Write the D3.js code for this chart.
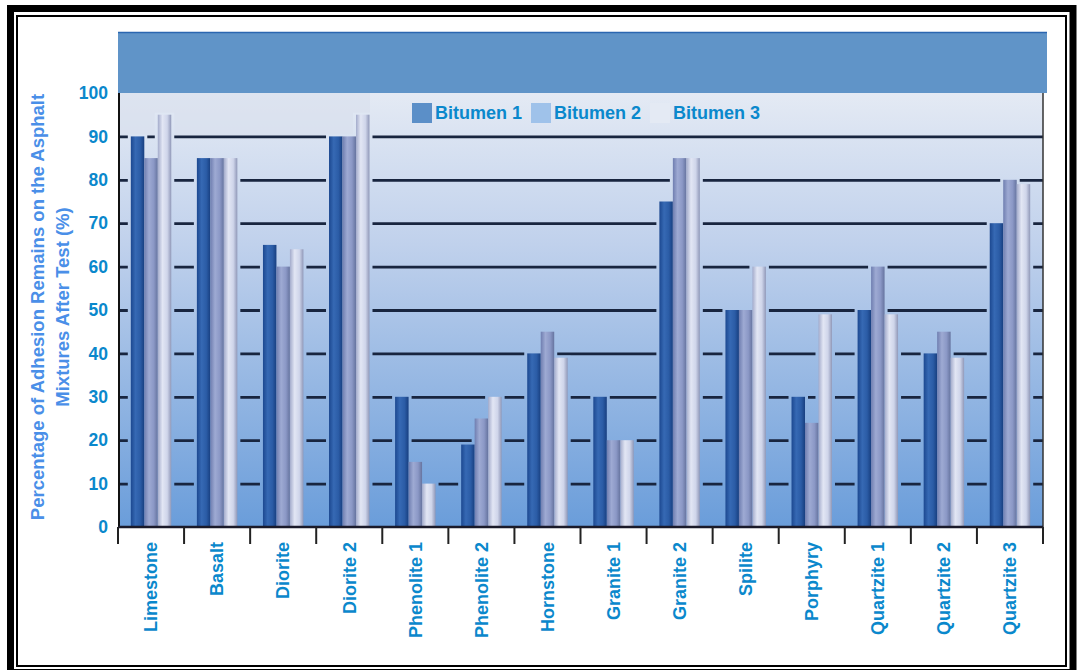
<!DOCTYPE html>
<html>
<head>
<meta charset="utf-8">
<script src="https://cdn.jsdelivr.net/npm/d3@7"></script>
<style>
  body { margin: 0; background: #fff; }
  svg { display: block; font-family: "Liberation Sans", Arial, sans-serif; }
</style>
</head>
<body>
<div class="chart"></div>
<script>
const categories = ['Limestone', 'Basalt', 'Diorite', 'Diorite 2', 'Phenolite 1', 'Phenolite 2', 'Hornstone',
  'Granite 1', 'Granite 2', 'Spilite', 'Porphyry', 'Quartzite 1', 'Quartzite 2', 'Quartzite 3'];
const seriesNames = ['Bitumen 1', 'Bitumen 2', 'Bitumen 3'];
const bitumen1 = [90, 85, 65, 90, 30, 19, 40, 30, 75, 50, 30, 50, 40, 70];
const bitumen2 = [85, 85, 60, 90, 15, 25, 45, 20, 85, 50, 24, 60, 45, 80];
const bitumen3 = [95, 85, 64, 95, 10, 30, 39, 20, 85, 60, 49, 49, 39, 79];
const yTicks = [0, 10, 20, 30, 40, 50, 60, 70, 80, 90, 100];
const yTitle = ['Percentage of Adhesion Remains on the Asphalt', 'Mixtures After Test (%)'];

const W = 1077, H = 670;
const margin = { top: 93, right: 34, bottom: 143, left: 118 };
const plotRight = W - margin.right, plotBottom = H - margin.bottom;

const svg = d3.select('.chart').append('svg').attr('width', W).attr('height', H);
const defs = svg.append('defs');

// background of the plot wall
const bg = defs.append('linearGradient').attr('id', 'bgGrad')
  .attr('gradientUnits', 'userSpaceOnUse')
  .attr('x1', 0).attr('y1', margin.top).attr('x2', 0).attr('y2', plotBottom);
bg.append('stop').attr('offset', '0%').attr('stop-color', '#e4eaf4');
bg.append('stop').attr('offset', '35%').attr('stop-color', '#c0d1ec');
bg.append('stop').attr('offset', '100%').attr('stop-color', '#6a9dda');

// cylinder-like shading for each series
const barStops = [
  ['#1c4890', '#3669b4', '#2b5ca6', '#183f80'],
  ['#6f7eb0', '#9eaad3', '#8b98c6', '#66749f'],
  ['#a3abcb', '#e2e6f4', '#cfd5ea', '#9098b8']
];
barStops.forEach((s, i) => {
  const g = defs.append('linearGradient').attr('id', 'bar' + i).attr('x1', 0).attr('x2', 1).attr('y1', 0).attr('y2', 0);
  [0, 35, 70, 100].forEach((o, j) => g.append('stop').attr('offset', o + '%').attr('stop-color', s[j]));
});

// double frame
svg.append('rect').attr('x', 10.5).attr('y', 8.5).attr('width', 1062.5).attr('height', 664)
  .attr('fill', 'none').attr('stroke', '#000').attr('stroke-width', 7);
svg.append('rect').attr('x', 17).attr('y', 16).attr('width', 1049).attr('height', 650)
  .attr('fill', 'none').attr('stroke', '#000').attr('stroke-width', 2);

const x0 = d3.scaleBand().domain(categories).range([margin.left, plotRight]);
const x1 = d3.scaleBand().domain(seriesNames).range([0, x0.bandwidth()]).paddingInner(0).paddingOuter(0.95);
const y = d3.scaleLinear().domain([0, 100]).range([plotBottom, margin.top]);

// header band
svg.append('rect').attr('x', margin.left).attr('y', 32).attr('width', 1047 - margin.left).attr('height', margin.top - 32)
  .attr('fill', '#6094c8');
svg.append('line').attr('x1', margin.left).attr('x2', 1047).attr('y1', 32.5).attr('y2', 32.5)
  .attr('stroke', '#2a66b0').attr('stroke-width', 1.5);

// plot wall
svg.append('rect').attr('x', margin.left).attr('y', margin.top)
  .attr('width', plotRight - margin.left).attr('height', plotBottom - margin.top).attr('fill', 'url(#bgGrad)');
svg.append('rect').attr('x', margin.left).attr('y', margin.top)
  .attr('width', 370 - margin.left).attr('height', 42).attr('fill', '#d8e0ec').attr('opacity', 0.6);

// grid lines
svg.append('g').attr('class', 'grid')
  .attr('transform', `translate(${margin.left},0)`)
  .call(d3.axisLeft(y).tickValues(yTicks.filter(v => v > 0 && v < 100)).tickSize(-(plotRight - margin.left)).tickFormat(''))
  .call(g => g.select('.domain').remove())
  .call(g => g.selectAll('line').attr('stroke', '#18253f').attr('stroke-width', 2.8));

const rows = categories.map((c, i) => ({ cat: c, vals: [bitumen1[i], bitumen2[i], bitumen3[i]] }));

const groups = svg.append('g').selectAll('g').data(rows).join('g')
  .attr('transform', d => `translate(${x0(d.cat)},0)`);

// depth of the bars hides the back-wall grid
groups.selectAll('rect.depth').data(d => d.vals.map((v, k) => ({ v, s: seriesNames[k], k })))
  .join('rect').attr('class', 'depth')
  .attr('x', d => x1(d.s) - 3).attr('width', x1.bandwidth() + 6)
  .attr('y', d => y(d.v) - 2).attr('height', d => plotBottom - y(d.v) + 2)
  .attr('fill', 'url(#bgGrad)');

groups.selectAll('rect.bar').data(d => d.vals.map((v, k) => ({ v, s: seriesNames[k], k })))
  .join('rect').attr('class', 'bar')
  .attr('x', d => x1(d.s)).attr('width', x1.bandwidth())
  .attr('y', d => y(d.v)).attr('height', d => plotBottom - y(d.v))
  .attr('fill', d => `url(#bar${d.k})`);

// axes lines
svg.append('line').attr('x1', margin.left + 1).attr('x2', margin.left + 1).attr('y1', margin.top).attr('y2', plotBottom)
  .attr('stroke', '#111').attr('stroke-width', 2);
svg.append('line').attr('x1', plotRight).attr('x2', plotRight).attr('y1', margin.top).attr('y2', plotBottom)
  .attr('stroke', '#333').attr('stroke-width', 1.5);
svg.append('line').attr('x1', margin.left).attr('x2', plotRight).attr('y1', plotBottom).attr('y2', plotBottom)
  .attr('stroke', '#1a1a2a').attr('stroke-width', 2.5);

// tick marks between categories
svg.append('g').selectAll('line').data(categories.map(c => x0(c)).concat([plotRight]))
  .join('line').attr('x1', d => d).attr('x2', d => d).attr('y1', plotBottom).attr('y2', plotBottom + 17)
  .attr('stroke', '#222').attr('stroke-width', 2);

// y tick labels
svg.append('g').attr('transform', `translate(${margin.left - 10},0)`)
  .call(d3.axisLeft(y).tickValues(yTicks).tickSize(0).tickPadding(0))
  .call(g => g.select('.domain').remove())
  .call(g => g.selectAll('text').attr('fill', '#0a88cc').attr('font-size', 17.5).attr('font-weight', 'bold')
    .attr('font-family', '"Liberation Sans", Arial, sans-serif'));

// x labels
svg.append('g').attr('transform', `translate(0,${plotBottom})`)
  .call(d3.axisBottom(x0).tickSize(0))
  .call(g => g.select('.domain').remove())
  .call(g => g.selectAll('text')
    .attr('transform', 'rotate(-90)').attr('text-anchor', 'end')
    .attr('x', -15).attr('y', 0).attr('dy', '0.35em')
    .attr('fill', '#0a88cc').attr('font-size', 18).attr('font-weight', 'bold')
    .attr('font-family', '"Liberation Sans", Arial, sans-serif'));

// y title
const yt = svg.append('text').attr('transform', 'translate(38,307) rotate(-90)')
  .attr('text-anchor', 'middle').attr('fill', '#4a8fe8').attr('font-size', 18.5).attr('font-weight', 'bold');
yt.selectAll('tspan').data(yTitle).join('tspan')
  .attr('x', 0).attr('dy', (d, i) => i === 0 ? '0.35em' : 25).text(d => d);

// legend
const legendX = [412, 531, 650];
const swatch = ['#5b8fc8', '#9fc2ea', '#e4eaf4'];
const leg = svg.append('g').selectAll('g').data(seriesNames).join('g')
  .attr('transform', (d, i) => `translate(${legendX[i]},103)`);
leg.append('rect').attr('width', 20).attr('height', 20).attr('fill', (d, i) => swatch[i]);
leg.append('text').attr('x', 23).attr('y', 10).attr('dy', '0.35em')
  .attr('fill', '#0a88cc').attr('font-size', 18).attr('font-weight', 'bold').text(d => d);
</script>
</body>
</html>
